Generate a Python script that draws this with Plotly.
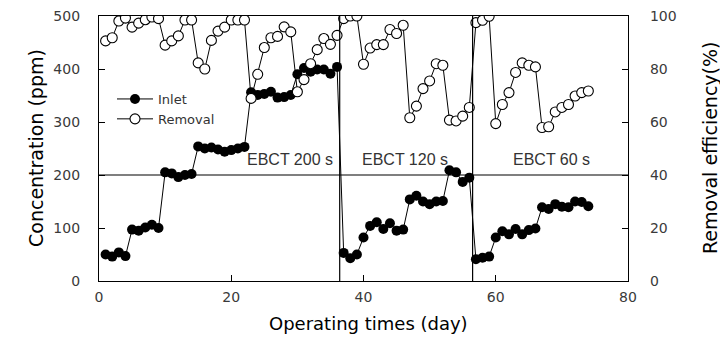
import plotly.graph_objects as go

# ---- data ----
days = list(range(1, 75))

inlet_ppm = [
    50, 46, 54, 47,
    97, 95, 101, 106, 100,
    205, 203, 196, 200, 202,
    254, 250, 252, 248, 244, 247, 250, 253,
    356, 351, 353, 357, 346, 347, 351, 390, 402, 395, 399, 399, 391, 404,
    53, 43, 50, 82, 104, 111, 98, 109, 95, 97, 154, 161, 150, 145, 150, 151, 209, 205, 187, 195,
    41, 44, 46, 82, 94, 88, 98, 88, 96, 99, 139, 136, 145, 140, 139, 150, 149, 141,
]

removal_pct = [
    90.6, 91.8, 98.1, 99.2, 95.8, 97.3, 98.6, 99.6, 99.0, 89.0, 90.6, 92.5, 98.5, 98.5,
    82.3, 80.0, 90.8, 94.3, 95.8, 98.5, 98.5, 98.5,
    68.9, 78.0, 88.1, 91.8, 92.3, 95.9, 94.0, 71.4, 76.0, 82.0, 87.3, 91.5, 89.3, 92.7,
    99.0, 100, 100, 81.8, 87.9, 89.2, 89.2, 94.9, 93.4, 96.5, 61.6, 66.0, 72.6, 75.5,
    82.0, 81.4, 60.7, 60.4, 62.2, 65.5,
    97.5, 98.4, 99.9, 59.4, 66.6, 71.1, 78.7, 82.3, 81.4, 80.8, 57.9, 58.2, 63.8, 65.5,
    66.6, 69.8, 71.1, 71.7,
]

phase_breaks = [36.4, 56.5]          # days where EBCT changed
ebct_labels = ["EBCT 200 s", "EBCT 120 s", "EBCT 60 s"]
ebct_label_x = [28.9, 46.3, 68.4]
ref_level = 200
x_ticks = [0, 20, 40, 60, 80]
y_ticks = [0, 100, 200, 300, 400, 500]
y2_ticks = [0, 20, 40, 60, 80, 100]

TICK_FONT = dict(family="DejaVu Sans", size=14, color="#3a3a3a")
TITLE_FONT = "DejaVu Sans"

fig = go.Figure()

fig.add_trace(go.Scatter(
    x=days, y=removal_pct, name="Removal", yaxis="y2",
    mode="lines+markers", legendrank=2,
    line=dict(color="black", width=1),
    marker=dict(symbol="circle", size=10, color="white",
                line=dict(color="black", width=1.1)),
))
fig.add_trace(go.Scatter(
    x=days, y=inlet_ppm, name="Inlet", yaxis="y",
    mode="lines+markers", legendrank=1,
    line=dict(color="black", width=1),
    marker=dict(symbol="circle", size=10, color="black",
                line=dict(color="black", width=0)),
))

shapes = [dict(type="line", xref="x", yref="y", x0=0, x1=80, y0=ref_level, y1=ref_level,
               line=dict(color="black", width=1.2))]
for b in phase_breaks:
    shapes.append(dict(type="line", xref="x", yref="y", x0=b, x1=b, y0=0, y1=500,
                       line=dict(color="black", width=1.2)))

annotations = []
for lab, xx in zip(ebct_labels, ebct_label_x):
    annotations.append(dict(x=xx, y=230, xref="x", yref="y", text=lab, showarrow=False,
                            font=dict(family="Liberation Sans", size=16, color="#333333"),
                            xanchor="center", yanchor="middle"))
annotations += [
    dict(x=36, y=148, xref="paper", yref="paper", text="Concentration (ppm)",
         showarrow=False, textangle=-90, font=dict(family=TITLE_FONT, size=19, color="black"),
         xanchor="center", yanchor="middle"),
    dict(x=710, y=148, xref="paper", yref="paper", text="Removal efficiency(%)",
         showarrow=False, textangle=-90, font=dict(family=TITLE_FONT, size=19, color="black"),
         xanchor="center", yanchor="middle"),
    dict(x=368, y=323, xref="paper", yref="paper", text="Operating times (day)",
         showarrow=False, font=dict(family=TITLE_FONT, size=18, color="black"),
         xanchor="center", yanchor="middle"),
]

# convert pixel positions of title annotations to paper coords
L, R, T, B, W, H = 99, 92, 16, 66, 720, 347
pw, ph = W - L - R, H - T - B
for a in annotations[3:]:
    a["x"] = (a["x"] - L) / pw
    a["y"] = (H - B - a["y"]) / ph

fig.update_layout(
    width=W, height=H,
    margin=dict(l=L, r=R, t=T, b=B, autoexpand=False),
    paper_bgcolor="white", plot_bgcolor="white",
    shapes=shapes, annotations=annotations,
    showlegend=True,
    legend=dict(x=(112 - L) / pw, y=(H - B - 84) / ph, xanchor="left", yanchor="top",
                bgcolor="rgba(0,0,0,0)", borderwidth=0,
                font=dict(family="DejaVu Sans", size=13, color="#333333"),
                itemwidth=36, tracegroupgap=0),
    xaxis=dict(range=[0, 80], tickvals=x_ticks, ticks="inside", ticklen=6, tickcolor="black",
               showline=True, linecolor="black", linewidth=1.2, mirror=True,
               showgrid=False, zeroline=False, tickfont=TICK_FONT, ticklabelstandoff=3),
    yaxis=dict(range=[0, 500], tickvals=y_ticks, ticks="inside", ticklen=6, tickcolor="black",
               showline=True, linecolor="black", linewidth=1.2,
               showgrid=False, zeroline=False, tickfont=TICK_FONT, ticklabelstandoff=15),
    yaxis2=dict(range=[0, 100], tickvals=y2_ticks, ticks="inside", ticklen=6, tickcolor="black",
                overlaying="y", side="right",
                showline=True, linecolor="black", linewidth=1.2,
                showgrid=False, zeroline=False, tickfont=TICK_FONT, ticklabelstandoff=18),
)

fig.write_html("out.html")
